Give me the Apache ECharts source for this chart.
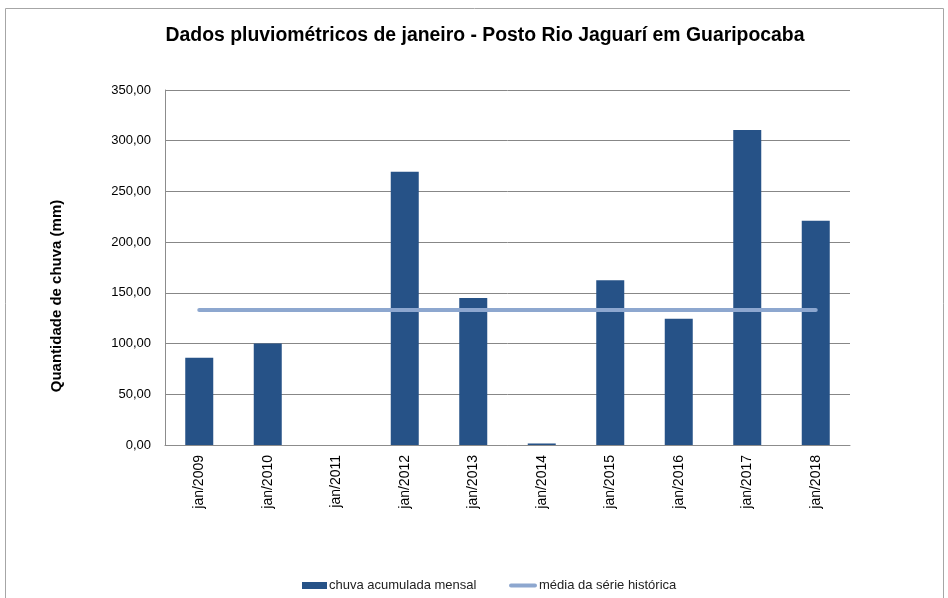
<!DOCTYPE html>
<html>
<head>
<meta charset="utf-8">
<script src="https://cdn.jsdelivr.net/npm/echarts@6/dist/echarts.min.js"></script>
<style>
  html, body { margin: 0; padding: 0; background: #fff; }
  #chart { width: 948px; height: 598px; }
</style>
</head>
<body>
<div id="chart"></div>
<script>
const categories = ['jan/2009', 'jan/2010', 'jan/2011', 'jan/2012', 'jan/2013',
  'jan/2014', 'jan/2015', 'jan/2016', 'jan/2017', 'jan/2018'];
const chuvaMensal = [86, 100, 0, 269.5, 145, 1.5, 162.5, 124.5, 310.5, 221];
const mediaHistorica = [133.2, 133.2, 133.2, 133.2, 133.2, 133.2, 133.2, 133.2, 133.2, 133.2];
const yTitle = 'Quantidade de chuva (mm)';

const font = '"Liberation Sans", sans-serif';

const chart = echarts.init(document.getElementById('chart'));

chart.setOption({
  animation: false,
  backgroundColor: '#fff',
  textStyle: { fontFamily: font },
  graphic: [
    {
      type: 'rect',
      shape: { x: 5.5, y: 8.5, width: 938, height: 600 },
      style: { fill: 'none', stroke: '#a6a6a6', lineWidth: 1 },
      silent: true
    },
    // y axis title, placed like the original (a bit below the plot centre)
    {
      type: 'text',
      x: 57,
      y: 296,
      rotation: Math.PI / 2,
      style: {
        text: yTitle,
        fontFamily: font,
        fontSize: 15,
        fontWeight: 'bold',
        fill: '#000',
        align: 'center',
        verticalAlign: 'middle'
      }
    }
  ],
  title: {
    text: 'Dados pluviométricos de janeiro - Posto Rio Jaguarí em Guaripocaba',
    left: 480,
    textAlign: 'center',
    top: 21,
    textStyle: { fontFamily: font, fontSize: 19.4, fontWeight: 'bold', color: '#000' }
  },
  legend: [
    {
      data: ['chuva acumulada mensal'],
      left: 297,
      top: 574,
      itemWidth: 25,
      itemHeight: 7,
      icon: 'rect',
      textStyle: { fontFamily: font, fontSize: 13, color: '#222', padding: [0, 0, 0, -3] }
    },
    {
      data: ['média da série histórica'],
      left: 504,
      top: 574,
      itemWidth: 28,
      itemHeight: 7,
      icon: 'path://M2,2 L26,2 A2,2 0 0 1 26,6 L2,6 A2,2 0 0 1 2,2 Z',
      textStyle: { fontFamily: font, fontSize: 13, color: '#222', padding: [0, 0, 0, -3] }
    }
  ],
  grid: { left: 165, right: 98, top: 90, bottom: 153 },
  xAxis: {
    type: 'category',
    data: categories,
    axisLine: { lineStyle: { color: '#8c8c8c', width: 1 } },
    axisTick: { show: false },
    axisLabel: {
      rotate: 90,
      margin: 10,
      fontFamily: font,
      fontSize: 14,
      color: '#000'
    }
  },
  yAxis: {
    type: 'value',
    min: 0,
    max: 350,
    interval: 50,
    axisLine: { show: true, lineStyle: { color: '#8c8c8c', width: 1 } },
    axisTick: { show: false },
    splitLine: { lineStyle: { color: '#878787', width: 1 } },
    axisLabel: {
      margin: 14,
      fontFamily: font,
      fontSize: 13,
      color: '#000',
      formatter: v => v.toFixed(2).replace('.', ',')
    }
  },
  series: [
    {
      name: 'chuva acumulada mensal',
      type: 'bar',
      data: chuvaMensal,
      barWidth: 28,
      itemStyle: { color: '#265287' }
    },
    {
      name: 'média da série histórica',
      type: 'line',
      data: mediaHistorica,
      symbol: 'none',
      z: 5,
      color: '#8da7cf',
      lineStyle: { color: '#8da7cf', width: 4, cap: 'round' }
    }
  ]
});
</script>
</body>
</html>
